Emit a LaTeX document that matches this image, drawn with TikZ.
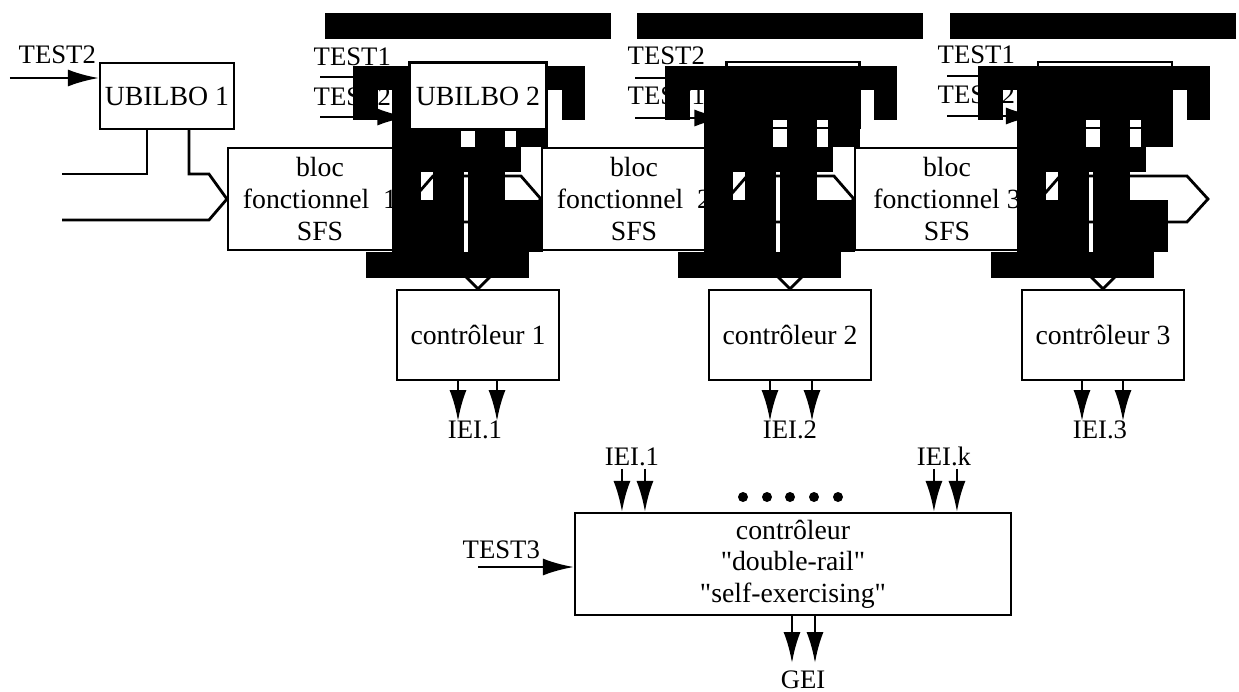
\documentclass[tikz,border=0pt]{standalone}
\usepackage{fontspec}
\setmainfont{Liberation Serif}
\usetikzlibrary{arrows.meta,calc}

\newcommand{\diafont}{\fontsize{7.9}{9}\selectfont}
\newcommand{\testfont}{\fontsize{7.6}{9}\selectfont}

% black patches over each UBILBO stage (x relative to the stage)
\newcommand{\xorblob}{%
  \fill[xor_fill] (-153,13) rectangle (133,39);
  \fill[xor_fill] (-125,66) rectangle (107,90);
  \fill[xor_fill] (-125,90) rectangle (-100,120);
  \fill[xor_fill] (-86,90) rectangle (70,120);
  \fill[xor_fill] (84,90) rectangle (107,120);
  \fill[xor_fill] (-86,120) rectangle (-17,147);
  \fill[xor_fill] (-3,120) rectangle (27,147);
  \fill[xor_fill] (38,120) rectangle (70,147);
  \fill[xor_fill] (-86,147) rectangle (43,172);
  \fill[xor_fill] (-86,172) rectangle (-57,200);
  \fill[xor_fill] (-45,172) rectangle (-14,200);
  \fill[xor_fill] (-10,172) rectangle (27,200);
  \fill[xor_fill] (-86,200) rectangle (-14,252);
  \fill[xor_fill] (-10,200) rectangle (65,252);
  \fill[xor_fill] (-112,252) rectangle (51,278);
}

\begin{document}
\begin{tikzpicture}
  [x=0.1mm, y=-0.1mm]
  \tikzstyle{plain_box} = [draw=black, line width=0.6pt, inner sep=0pt, align=center, font=\diafont];
  \tikzstyle{bloc_box}  = [plain_box, minimum width=18.4mm, minimum height=10.2mm];
  \tikzstyle{ctrl_box}  = [plain_box, minimum width=16.2mm, minimum height=9mm];
  \tikzstyle{test_lbl}  = [inner sep=0pt, anchor=base west, font=\testfont];
  \tikzstyle{out_lbl}   = [inner sep=0pt, anchor=base, font=\testfont];
  \tikzstyle{bus_line}  = [line width=0.8pt];
  \tikzstyle{sig_arrow} = [line width=0.8pt, -{Latex[length=3.1mm, width=1.7mm]}];
  \tikzstyle{xor_fill}  = [fill=black];
  \tikzstyle{dot}       = [circle, fill=black, inner sep=0pt, minimum size=1mm];

  \useasboundingbox (0,0) rectangle (1239,691);

  \node[plain_box, minimum width=13.4mm, minimum height=6.6mm] (ubilbo1) at (167,96) {UBILBO 1};
  \node[plain_box, minimum width=13.7mm, minimum height=6.7mm] (ubilbo2) at (478,96) {UBILBO 2};
  \node[plain_box, minimum width=13.3mm, minimum height=6.6mm] (ubilbo3) at (793,95) {UBILBO 3};
  \node[plain_box, minimum width=13.4mm, minimum height=6.6mm] (ubilbo4) at (1105,95) {UBILBO 4};

  \node[bloc_box] (bloc1) at (320,199) {bloc\\fonctionnel\ \ 1\\SFS};
  \node[bloc_box] (bloc2) at (634,199) {bloc\\fonctionnel\ \ 2\\SFS};
  \node[bloc_box] (bloc3) at (947,199) {bloc\\fonctionnel 3\\SFS};

  \node[ctrl_box] (ctrl1) at (478,335) {contr\^oleur 1};
  \node[ctrl_box] (ctrl2) at (790,335) {contr\^oleur 2};
  \node[ctrl_box] (ctrl3) at (1103,335) {contr\^oleur 3};

  \node[plain_box, minimum width=43.6mm, minimum height=10.2mm] (ctrlmain) at (793,564)
    {contr\^oleur\\\textquotedbl double-rail\textquotedbl\\\textquotedbl self-exercising\textquotedbl};

  % test inputs
  \node[test_lbl] (test2a) at (18,63) {TEST2};
  \node[test_lbl] (test1b) at (313,65) {TEST1};
  \node[test_lbl] (test2b) at (313,105) {TEST2};
  \node[test_lbl] (test2c) at (627,64) {TEST2};
  \node[test_lbl] (test1c) at (627,104) {TEST1};
  \node[test_lbl] (test1d) at (937,63) {TEST1};
  \node[test_lbl] (test2d) at (937,103) {TEST2};
  \node[test_lbl] (test3) at (462,558) {TEST3};

  \coordinate (in0) at (10,78);
  \coordinate (in1a) at (320,77);
  \coordinate (in1b) at (320,117);
  \coordinate (in2a) at (635,78);
  \coordinate (in2b) at (635,118);
  \coordinate (in3a) at (947,76);
  \coordinate (in3b) at (947,116);
  \coordinate (in4) at (478,567);

  \draw[sig_arrow] (in0) -- (in0 -| ubilbo1.west);
  \draw[sig_arrow] (in1a) -- (in1a -| ubilbo2.west);
  \draw[sig_arrow] (in1b) -- (in1b -| ubilbo2.west);
  \draw[sig_arrow] (in2a) -- (in2a -| ubilbo3.west);
  \draw[sig_arrow] (in2b) -- (in2b -| ubilbo3.west);
  \draw[sig_arrow] (in3a) -- (in3a -| ubilbo4.west);
  \draw[sig_arrow] (in3b) -- (in3b -| ubilbo4.west);
  \draw[sig_arrow] (in4) -- (in4 -| ctrlmain.west);

  % bus into bloc 1 through UBILBO 1
  \coordinate (busa) at (62,174);
  \coordinate (busb) at (62,220);
  \draw[bus_line] (busa) -| ($(ubilbo1.south)+(-20,0)$);
  \draw[bus_line] ($(ubilbo1.south)+(22,0)$) |- ($(bloc1.west)+(-18,-25)$) -- (bloc1.west);
  \draw[bus_line] (busb) -- ($(bloc1.west)+(-18,21)$) -- (bloc1.west);

  % buses between blocs
  \draw[bus_line] (bloc1.east) -- ++(20,-23) -- ($(bloc2.west)+(-20,-23)$) -- (bloc2.west)
    -- ($(bloc2.west)+(-20,23)$) -- ($(bloc1.east)+(20,23)$) -- cycle;
  \draw[bus_line] (bloc2.east) -- ++(20,-23) -- ($(bloc3.west)+(-20,-23)$) -- (bloc3.west)
    -- ($(bloc3.west)+(-20,23)$) -- ($(bloc2.east)+(20,23)$) -- cycle;
  \coordinate (busout) at (1208,199);
  \draw[bus_line] (bloc3.east) -- ++(20,-23) -- ($(busout)+(-21,-23)$) -- (busout)
    -- ($(busout)+(-21,23)$) -- ($(bloc3.east)+(20,23)$) -- cycle;

  % UBILBO outputs onto the buses
  \draw[bus_line] ($(ubilbo2.south)+(-22,0)$) -- ++(0,47);
  \draw[bus_line] ($(ubilbo2.south)+(20,0)$) -- ++(0,47);
  \draw[bus_line] ($(ubilbo3.south)+(-22,0)$) -- ++(0,47);
  \draw[bus_line] ($(ubilbo3.south)+(20,0)$) -- ++(0,47);
  \draw[bus_line] ($(ubilbo4.south)+(-22,0)$) -- ++(0,47);
  \draw[bus_line] ($(ubilbo4.south)+(20,0)$) -- ++(0,47);

  % buses down to the checkers
  \draw[bus_line] ($(ctrl1.north)+(-12,-35)$) -- ($(ctrl1.north)+(-12,-12)$) -- (ctrl1.north)
    -- ($(ctrl1.north)+(12,-12)$) -- ($(ctrl1.north)+(12,-35)$);
  \draw[bus_line] ($(ctrl2.north)+(-12,-35)$) -- ($(ctrl2.north)+(-12,-12)$) -- (ctrl2.north)
    -- ($(ctrl2.north)+(12,-12)$) -- ($(ctrl2.north)+(12,-35)$);
  \draw[bus_line] ($(ctrl3.north)+(-12,-35)$) -- ($(ctrl3.north)+(-12,-12)$) -- (ctrl3.north)
    -- ($(ctrl3.north)+(12,-12)$) -- ($(ctrl3.north)+(12,-35)$);

  % checker outputs
  \draw[sig_arrow] ($(ctrl1.south)+(-20,0)$) -- ++(0,40);
  \draw[sig_arrow] ($(ctrl1.south)+(19,0)$) -- ++(0,40);
  \draw[sig_arrow] ($(ctrl2.south)+(-20,0)$) -- ++(0,40);
  \draw[sig_arrow] ($(ctrl2.south)+(22,0)$) -- ++(0,40);
  \draw[sig_arrow] ($(ctrl3.south)+(-21,0)$) -- ++(0,40);
  \draw[sig_arrow] ($(ctrl3.south)+(20,0)$) -- ++(0,40);

  \node[out_lbl] (iei1) at (475,438) {IEI.1};
  \node[out_lbl] (iei2) at (790,438) {IEI.2};
  \node[out_lbl] (iei3) at (1100,438) {IEI.3};

  % double-rail checker
  \node[out_lbl] (iei1in) at (632,465) {IEI.1};
  \node[out_lbl] (ieikin) at (944,465) {IEI.k};
  \draw[sig_arrow] ($(ctrlmain.north west)+(48,-43)$) -- ($(ctrlmain.north west)+(48,0)$);
  \draw[sig_arrow] ($(ctrlmain.north west)+(71,-43)$) -- ($(ctrlmain.north west)+(71,0)$);
  \draw[sig_arrow] ($(ctrlmain.north west)+(360,-43)$) -- ($(ctrlmain.north west)+(360,0)$);
  \draw[sig_arrow] ($(ctrlmain.north west)+(383,-43)$) -- ($(ctrlmain.north west)+(383,0)$);

  \node[dot] (d1) at (743,497) {};
  \node[dot] (d2) at (767,497) {};
  \node[dot] (d3) at (790,497) {};
  \node[dot] (d4) at (814,497) {};
  \node[dot] (d5) at (838,497) {};

  \draw[sig_arrow] ($(ctrlmain.south)+(-1,0)$) -- ++(0,47);
  \draw[sig_arrow] ($(ctrlmain.south)+(22,0)$) -- ++(0,47);
  \node[out_lbl] (gei) at (803,688) {GEI};

  % black patches
  \begin{scope}[shift={(478,0)}]
    \xorblob
  \end{scope}
  \begin{scope}[shift={(790,0)}]
    \xorblob
  \end{scope}
  \begin{scope}[shift={(1103,0)}]
    \xorblob
  \end{scope}

  \node[plain_box, fill=white, minimum width=13.7mm, minimum height=6.7mm] (ubilbo2top) at (ubilbo2) {UBILBO 2};

\end{tikzpicture}
\end{document}
